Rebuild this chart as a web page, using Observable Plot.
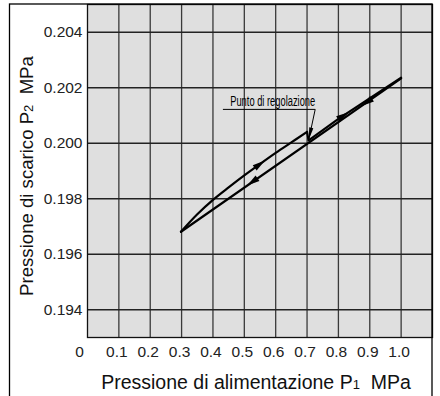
<!DOCTYPE html>
<html><head><meta charset="utf-8">
<script src="https://cdn.jsdelivr.net/npm/d3@7"></script>
<script src="https://cdn.jsdelivr.net/npm/@observablehq/plot@0.6"></script>
<style>body{margin:0;background:#fff;font-family:"Liberation Sans",Arial,sans-serif}</style>
</head><body><div id="chart"></div>
<script>
// tick values and labels
const xTicks = [0.1,0.2,0.3,0.4,0.5,0.6,0.7,0.8,0.9,1.0];
const xTickLabels = ["0.1","0.2","0.3","0.4","0.5","0.6","0.7","0.8","0.9","1.0"];
const yTicks = [0.194,0.196,0.198,0.200,0.202,0.204];
const yTickLabels = ["0.194","0.196","0.198","0.200","0.202","0.204"];
// rising branch (P1 increasing): curved part, then step at the set point
const upX = [0.298,0.35,0.40,0.45,0.50,0.55,0.60,0.65,0.70];
const upY = [0.19681,0.19744,0.19796,0.19841,0.19884,0.19925,0.19965,0.20003,0.20041];
const upX2 = [0.70,0.705,0.80,1.0];
const upY2 = [0.20041,0.20010,0.20088,0.20236];
// falling branch (P1 decreasing)
const downX = [1.0,0.298];
const downY = [0.20234,0.19681];
// direction arrowheads on the branches
const arrowX = [0.545,0.811,0.53,0.895];
const arrowY = [0.19921,0.20096,0.19864,0.20151];
const arrowSlope = [0.0082,0.0074,0.00788,0.00788];
const arrowDir = ["up","up","down","down"];
// annotation
const noteText = "Punto di regolazione";
const noteTextPos = [0.455,0.20152];
const noteX = [0.433,0.726];
const noteY = [0.20122,0.20122];
const leaderEnd = [0.7054,0.20013];

const W=440,H=396,mL=87,mT=4,mR=8,mB=59;
const xDom=[0,1.1], yDom=[0.193,0.205];
const kx=(W-mL-mR)/(xDom[1]-xDom[0]), ky=(H-mT-mB)/(yDom[1]-yDom[0]);
const arrows = arrowX.map((x,i)=>{
  const a = Math.atan2(arrowSlope[i]*ky, kx)*180/Math.PI;
  return {x, y:arrowY[i], rot:(arrowDir[i]==="up"?90:270)-a};
});
const up = upX.map((x,i)=>({x,y:upY[i]}));
const up2 = upX2.map((x,i)=>({x,y:upY2[i]}));
const down = downX.map((x,i)=>({x,y:downY[i]}));
const leaderAng = Math.atan2((noteY[1]-leaderEnd[1])*ky,(leaderEnd[0]-noteX[1])*kx)*180/Math.PI;
// elongated arrowhead symbol (points up, centred)
const headSymbol = {draw(ctx,size){const s=Math.sqrt(size/Math.PI);ctx.moveTo(0,-1.9*s);ctx.lineTo(0.8*s,1.1*s);ctx.lineTo(-0.8*s,1.1*s);ctx.closePath();}};
// arrowhead with its tip at the anchor point
const tipSymbol = {draw(ctx,size){const s=Math.sqrt(size/Math.PI);ctx.moveTo(0,0);ctx.lineTo(0.55*s,3.2*s);ctx.lineTo(-0.55*s,3.2*s);ctx.closePath();}};

const svg = Plot.plot({
  width:W, height:H, marginLeft:mL, marginTop:mT, marginRight:mR, marginBottom:mB,
  x:{domain:xDom, axis:null},
  y:{domain:yDom, axis:null},
  style:{fontFamily:"'Liberation Sans',Arial,sans-serif", background:"#fff"},
  marks:[
    Plot.frame({fill:"#dfdfdf", stroke:null}),
    Plot.ruleX(xTicks,{stroke:"#3a3a3a", strokeWidth:1.3}),
    Plot.ruleY(yTicks,{stroke:"#222", strokeWidth:1.3}),
    Plot.frame({stroke:"#111", strokeWidth:1.3}),
    Plot.line(down,{x:"x",y:"y",stroke:"#000",strokeWidth:2.2}),
    Plot.line(up,{x:"x",y:"y",stroke:"#000",strokeWidth:2.2,curve:"monotone-x"}),
    Plot.line(up2,{x:"x",y:"y",stroke:"#000",strokeWidth:2.2}),
    Plot.dot(arrows,{x:"x",y:"y",symbol:headSymbol,r:4.2,fill:"#000",stroke:null,rotate:"rot"}),
    Plot.line(noteX.map((x,i)=>({x,y:noteY[i]})).concat([{x:leaderEnd[0],y:leaderEnd[1]}]),{x:"x",y:"y",stroke:"#000",strokeWidth:1}),
    Plot.dot([{x:leaderEnd[0],y:leaderEnd[1]}],{x:"x",y:"y",symbol:tipSymbol,r:3.8,fill:"#000",stroke:null,rotate:90+leaderAng}),
    Plot.text([noteText],{x:noteTextPos[0],y:noteTextPos[1],text:d=>d,textAnchor:"start",fontSize:14,fill:"#000",fontFamily:"'Liberation Sans Narrow','Liberation Sans',Arial"}),
    Plot.text(yTicks,{x:0,y:d=>d,text:(d,i)=>yTickLabels[i],textAnchor:"end",dx:-5,fontSize:15.5,fill:"#222"}),
    Plot.text(xTicks,{x:d=>d,y:yDom[0],text:(d,i)=>xTickLabels[i],dy:15,dx:-2,fontSize:15.5,fill:"#222"}),
    Plot.text([0],{x:0,y:yDom[0],text:()=>"0",dy:15,dx:-8,fontSize:15.5,fill:"#222"})
  ]
});
const s = d3.select(svg);
// outer frame
s.append("rect").attr("x",9.5).attr("y",4).attr("width",422.5).attr("height",400).attr("fill","none").attr("stroke","#000").attr("stroke-width",1.3);
// narrow annotation
s.selectAll("text").filter(function(){return this.textContent===noteText;}).attr("textLength",85).attr("lengthAdjust","spacingAndGlyphs");
// axis titles
const xt = s.append("text").attr("x",256).attr("y",389).attr("text-anchor","middle").attr("font-size",19.5).attr("fill","#111");
xt.append("tspan").text("Pressione di alimentazione P");
xt.append("tspan").attr("font-size",13).text("1");
xt.append("tspan").text("\u00a0 MPa");
const yt = s.append("text").attr("transform","translate(33,176) rotate(-90)").attr("text-anchor","middle").attr("font-size",18.6).attr("fill","#111");
yt.append("tspan").text("Pressione di scarico P");
yt.append("tspan").attr("font-size",13).text("2");
yt.append("tspan").text("\u00a0 MPa");
document.getElementById("chart").appendChild(svg);
</script></body></html>
